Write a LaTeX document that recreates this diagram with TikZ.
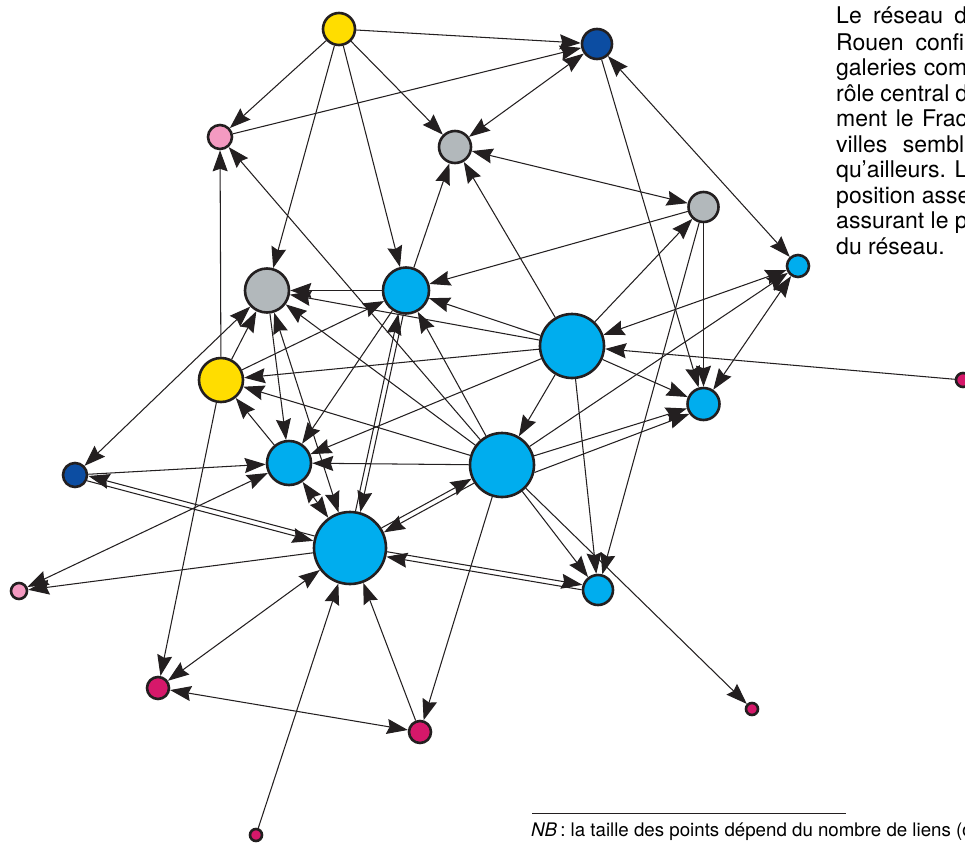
\documentclass[tikz,border=0pt]{standalone}
\usepackage{fontspec}
\setmainfont{TeX Gyre Heros}
\usetikzlibrary{arrows.meta}

\definecolor{ink}{HTML}{231F20}
\definecolor{yel}{HTML}{FFDD00}
\definecolor{navy}{HTML}{0C4DA2}
\definecolor{cyanb}{HTML}{00ADEE}
\definecolor{grayb}{HTML}{B2B8BB}
\definecolor{pinkb}{HTML}{F49AC1}
\definecolor{mag}{HTML}{D6186A}

\pgfdeclarelayer{edges}
\pgfsetlayers{edges,main}

\tikzset{
  dot/.style={circle,draw=ink,line width=2.6pt,inner sep=0pt,minimum size=#1},
  link/.style={draw=ink,line width=1.05pt,->},
  twoway/.style={draw=ink,line width=1.05pt,<->},
  para/.style={anchor=base west,inner sep=0pt,font=\fontsize{23}{25}\selectfont},
}

\begin{document}
\begin{tikzpicture}[x=1pt,y=-1pt,>={Stealth[length=21pt,width=15pt,inset=2.5pt]}]
\useasboundingbox (0,0) rectangle (965,843);

% cities, sized by number of links
\node[dot=32,fill=yel]   (Y1)  at (339,29)  {};
\node[dot=30,fill=navy]  (DB1) at (597,44)  {};
\node[dot=24,fill=pinkb] (P1)  at (220,137) {};
\node[dot=32,fill=grayb] (G1)  at (455,147) {};
\node[dot=30,fill=grayb] (G2)  at (703.5,207) {};
\node[dot=22,fill=cyanb] (LB1) at (798,266) {};
\node[dot=44,fill=grayb] (G3)  at (267,290.5) {};
\node[dot=46,fill=cyanb] (B1)  at (406,290.5) {};
\node[dot=64,fill=cyanb] (B2)  at (572,346) {};
\node[dot=44,fill=yel]   (Y2)  at (221,380) {};
\node[dot=32,fill=cyanb] (B3)  at (703.5,404) {};
\node[dot=14,fill=mag]   (M1)  at (963,380) {};
\node[dot=24,fill=navy]  (DB2) at (75,475)  {};
\node[dot=44,fill=cyanb] (B4)  at (289,463) {};
\node[dot=64,fill=cyanb] (B5)  at (502,465) {};
\node[dot=72,fill=cyanb] (B6)  at (350,548) {};
\node[dot=16,fill=pinkb] (P2)  at (19,591)  {};
\node[dot=30,fill=cyanb] (B7)  at (598,590) {};
\node[dot=22,fill=mag]   (M2)  at (158,688) {};
\node[dot=22,fill=mag]   (M3)  at (420,732) {};
\node[dot=12,fill=mag]   (M4)  at (752,709) {};
\node[dot=12,fill=mag]   (M5)  at (256,835) {};

\begin{pgfonlayer}{edges}
% top of the network
\draw[link] (Y1) -- (DB1);
\draw[link] (Y1) -- (P1);
\draw[link] (Y1) -- (G1);
\draw[link] (Y1) -- (G3);
\draw[link] (Y1) -- (B1);
\draw[link] (P1) -- (DB1);
\draw[twoway] (G1) -- (DB1);
\draw[twoway] (DB1) -- (LB1);
\draw[link] (DB1) -- (B3);
\draw[link] (B1) -- (G1);
\draw[link] (B2) -- (G1);
\draw[twoway] (G1) -- (G2);
\draw[link] (G2) -- (B1);
\draw[link] (G2) -- (B3);
\draw[link] (G2) -- (B7);
\draw[link] (B2) -- (G2);
% right side
\draw[twoway] (B2) -- (LB1);
\draw[link] (M1) -- (B2);
\draw[link] (B5) -- (LB1);
\draw[twoway] (LB1) -- (B3);
\draw[link] (B2) -- (B3);
\draw[link] (B5.16) -- (B3.195);
\draw[link] (B5.-13) -- (B3.215);
% centre and left
\draw[link] (Y2) -- (P1);
\draw[link] (B5) -- (P1);
\draw[link] (B1) -- (G3);
\draw[link] (B2) -- (G3);
\draw[link] (B2) -- (B1);
\draw[link] (Y2) -- (G3);
\draw[twoway] (G3) -- (DB2);
\draw[link] (G3) -- (B4);
\draw[twoway] (G3) -- (B6);
\draw[link] (B2) -- (Y2);
\draw[link] (B5) -- (Y2);
\draw[link] (B5) -- (G3);
\draw[link] (B5) -- (B1);
\draw[link] (Y2) -- (B1);
\draw[link] (B1) -- (B4);
\draw[link] (B2) -- (B4);
\draw[link] (B5) -- (B4);
\draw[link] (B4) -- (Y2);
\draw[link,transform canvas={shift={(2.4,0.5)}}] (B1) -- (B6);
\draw[link,transform canvas={shift={(-2.4,-0.5)}}] (B6) -- (B1);
\draw[link] (B2) -- (B5);
\draw[link] (B2) -- (B7);
\draw[link] (DB2) -- (B4);
\draw[link,transform canvas={shift={(-0.64,2.42)}}] (DB2) -- (B6);
\draw[link,transform canvas={shift={(0.64,-2.42)}}] (B6) -- (DB2);
\draw[twoway] (B4) -- (P2);
\draw[link] (B6) -- (P2);
\draw[twoway] (B4) -- (B6);
\draw[link,transform canvas={shift={(1.2,2.2)}}] (B5) -- (B6);
\draw[link,transform canvas={shift={(-1.2,-2.2)}}] (B6) -- (B5);
% bottom of the network
\draw[link] (Y2) -- (M2);
\draw[twoway] (B6) -- (M2);
\draw[twoway] (M2) -- (M3);
\draw[link] (M3) -- (B6);
\draw[link] (M5) -- (B6);
\draw[link] (B5) -- (M3);
\draw[link,transform canvas={shift={(0.42,-2.47)}}] (B6) -- (B7);
\draw[link,transform canvas={shift={(-0.42,2.47)}}] (B7) -- (B6);
\draw[link] (B5) -- (B7);
\draw[link] (B5) -- (M4);
\end{pgfonlayer}

% commentary column
\node[para] (t1)  at (836,24)  {\makebox[131pt][s]{Le réseau d}};
\node[para] (t2)  at (836,50)  {\makebox[128pt][s]{Rouen confi}};
\node[para] (t3)  at (836,75)  {\makebox[131pt][s]{galeries com}};
\node[para] (t4)  at (836,101) {\makebox[132pt][s]{rôle central d}};
\node[para] (t5)  at (836,126) {\makebox[131pt][s]{ment le Frac}};
\node[para] (t6)  at (836,152) {\makebox[128pt][s]{villes sembl}};
\node[para] (t7)  at (836,177) {qu’ailleurs. Le};
\node[para] (t8)  at (836,203) {position asse};
\node[para] (t9)  at (836,228) {assurant le p};
\node[para] (t10) at (836,254) {du réseau.};

% footnote
\coordinate (r1) at (532,813);
\coordinate (r2) at (846,813);
\draw[ink,line width=0.8pt] (r1) -- (r2);
\node[anchor=base west,inner sep=0pt,font=\fontsize{18.7}{22}\selectfont] (nb) at (531,836)
  {\textit{NB}\,: la taille des points dépend du nombre de liens (d};
\end{tikzpicture}
\end{document}
